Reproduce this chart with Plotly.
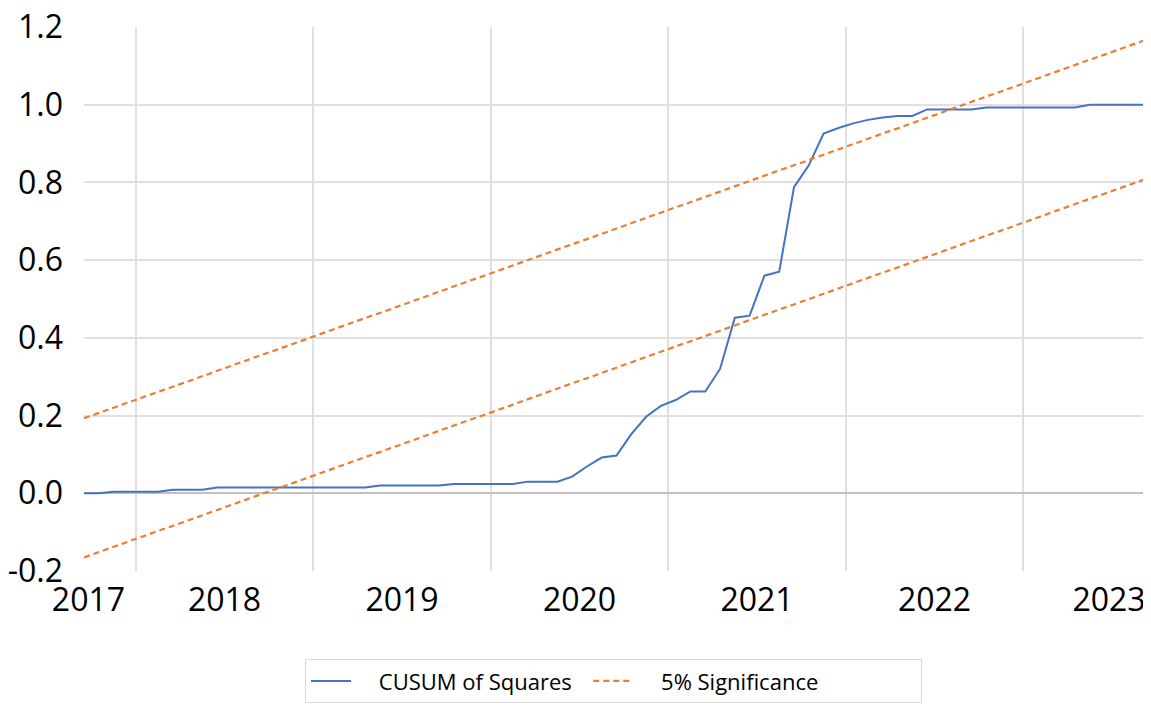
import plotly.graph_objects as go

# Monthly observations, Sep 2017 .. Sep 2023 (73 points), x = month index
months = list(range(73))

cusum_sq = [0.000, 0.000, 0.004, 0.004, 0.004, 0.004, 0.009, 0.009, 0.009,
            0.015, 0.015, 0.015, 0.015, 0.015, 0.015, 0.015, 0.015, 0.015, 0.015, 0.015,
            0.020, 0.020, 0.020, 0.020, 0.020,
            0.024, 0.024, 0.024, 0.024, 0.024,
            0.030, 0.030, 0.030,
            0.043, 0.069, 0.092, 0.097, 0.152, 0.197, 0.225, 0.240, 0.262, 0.262,
            0.320, 0.452, 0.457, 0.560, 0.570, 0.788, 0.844, 0.926, 0.940, 0.952,
            0.961, 0.967, 0.971, 0.971,
            0.988, 0.988, 0.988, 0.988,
            0.993, 0.993, 0.993, 0.993, 0.993, 0.993, 0.993,
            1.000, 1.000, 1.000, 1.000, 1.000]

upper_5pct = [0.193, 0.207, 0.220, 0.234, 0.247, 0.261, 0.274, 0.288, 0.302, 0.315,
              0.329, 0.342, 0.356, 0.369, 0.383, 0.397, 0.410, 0.424, 0.437, 0.451,
              0.464, 0.478, 0.492, 0.505, 0.519, 0.532, 0.546, 0.559, 0.573, 0.587,
              0.600, 0.614, 0.627, 0.641, 0.654, 0.668, 0.682, 0.695, 0.709, 0.722,
              0.736, 0.749, 0.763, 0.777, 0.790, 0.804, 0.817, 0.831, 0.844, 0.858,
              0.872, 0.885, 0.899, 0.912, 0.926, 0.939, 0.953, 0.967, 0.980, 0.994,
              1.007, 1.021, 1.034, 1.048, 1.061, 1.075, 1.089, 1.102, 1.116, 1.129,
              1.143, 1.156, 1.170]

lower_5pct = [-0.165, -0.151, -0.138, -0.124, -0.111, -0.097, -0.084, -0.070, -0.056, -0.043,
              -0.029, -0.016, -0.002, 0.011, 0.025, 0.039, 0.052, 0.066, 0.079, 0.093,
              0.106, 0.120, 0.134, 0.147, 0.161, 0.174, 0.188, 0.201, 0.215, 0.229,
              0.242, 0.256, 0.269, 0.283, 0.296, 0.310, 0.324, 0.337, 0.351, 0.364,
              0.378, 0.391, 0.405, 0.419, 0.432, 0.446, 0.459, 0.473, 0.486, 0.500,
              0.514, 0.527, 0.541, 0.554, 0.568, 0.581, 0.595, 0.609, 0.622, 0.636,
              0.649, 0.663, 0.676, 0.690, 0.703, 0.717, 0.731, 0.744, 0.758, 0.771,
              0.785, 0.798, 0.812]

year_labels = ["2017", "2018", "2019", "2020", "2021", "2022", "2023"]
year_label_pos = [0.3, 9.5, 21.5, 33.5, 45.5, 57.5, 69.3]
year_bounds = [3.5, 15.5, 27.5, 39.5, 51.5, 63.5]

y_ticks = [-0.2, 0.0, 0.2, 0.4, 0.6, 0.8, 1.0, 1.2]
y_ticktext = ["-0.2", "0.0", "0.2", "0.4", "0.6", "0.8", "1.0", "1.2"]

BLUE = "#4472C4"
ORANGE = "#ED7D31"
FONT = "Open Sans"
NB = "\u00a0"  # non-breaking spaces used only as legend padding

fig = go.Figure()
fig.add_trace(go.Scatter(x=months, y=cusum_sq, mode="lines",
                         name=NB * 4 + "CUSUM of Squares" + NB * 2,
                         line=dict(color=BLUE, width=2)))
fig.add_trace(go.Scatter(x=months, y=upper_5pct, mode="lines",
                         name=NB * 4 + "5% Significance" + NB * 17,
                         line=dict(color=ORANGE, width=2.2, dash="6px,4px")))
fig.add_trace(go.Scatter(x=months, y=lower_5pct, mode="lines", name="5% Significance",
                         showlegend=False,
                         line=dict(color=ORANGE, width=2.2, dash="6px,4px")))

# page body has an 8px margin, so the figure is sized to fit the 1151x709 window
fig.update_layout(
    width=1143, height=701,
    margin=dict(l=76, r=2, t=18.5, b=137.5, autoexpand=False),
    paper_bgcolor="white", plot_bgcolor="white",
    font=dict(family=FONT, color="black"),
    showlegend=True,
    legend=dict(orientation="h", x=(305 - 84) / 1065, xanchor="left", y=-0.162, yanchor="top",
                bordercolor="#d9d9d9", borderwidth=1, font=dict(size=22, family=FONT),
                itemwidth=40),
    xaxis=dict(range=[0, 72], tickmode="array", tickvals=year_label_pos, ticktext=year_labels,
               showgrid=False, zeroline=False, showline=False, ticks="", automargin=False,
               tickfont=dict(size=32), ticklabelstandoff=7, ticklabeloverflow="allow",
               minor=dict(tickmode="array", tickvals=year_bounds, showgrid=True,
                          gridcolor="#e0e0e0", gridwidth=1.5, ticks="")),
    yaxis=dict(range=[-0.2, 1.2], tickmode="array", tickvals=y_ticks, ticktext=y_ticktext,
               showgrid=False, zeroline=True, zerolinecolor="#c0c0c0", zerolinewidth=2,
               showline=False, ticks="", tickfont=dict(size=32), ticklabelstandoff=20,
               automargin=False, ticklabeloverflow="allow",
               minor=dict(tickmode="array", tickvals=[0.2, 0.4, 0.6, 0.8, 1.0], showgrid=True,
                          gridcolor="#e0e0e0", gridwidth=1.5, ticks="")),
)

fig.write_html("out.html")
